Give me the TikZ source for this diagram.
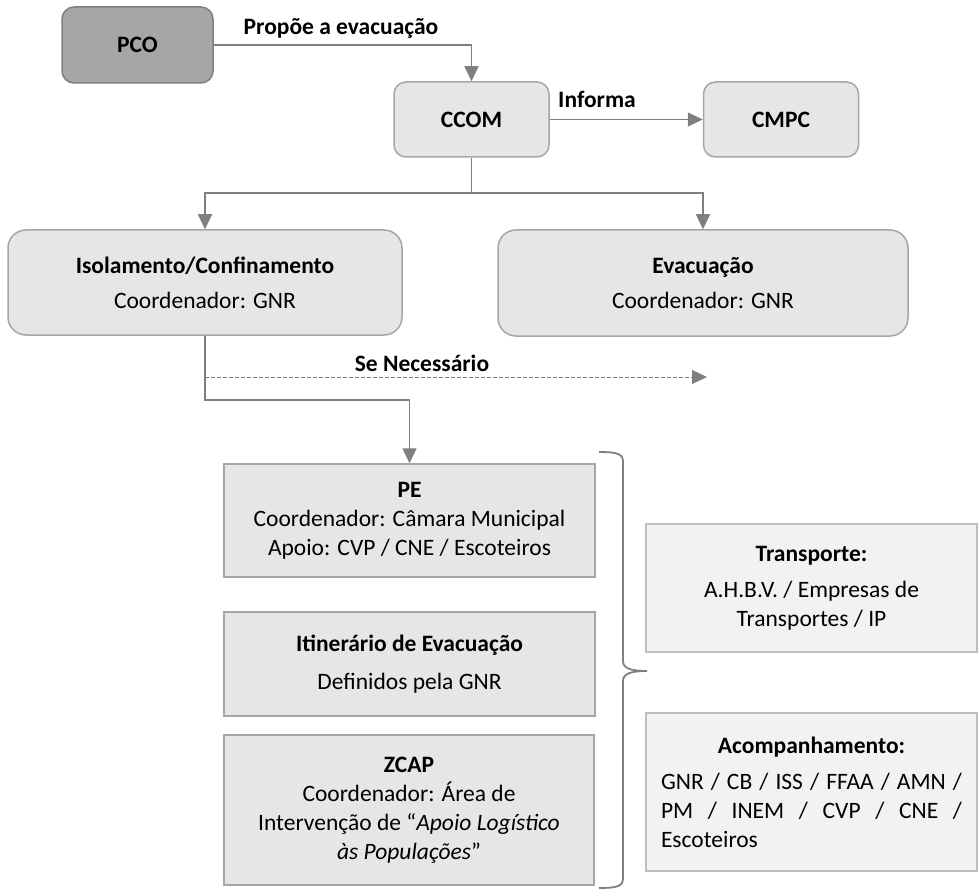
\documentclass[tikz,border=0pt]{standalone}
\usepackage{fontspec}
\setmainfont{Carlito}
\usepackage{tikz}
\usetikzlibrary{arrows.meta, positioning, calc}
\definecolor{boxfill}{HTML}{E6E6E6}
\definecolor{boxframe}{HTML}{A6A6A6}
\definecolor{topfill}{HTML}{A6A6A6}
\definecolor{topframe}{HTML}{808080}
\definecolor{sidefill}{HTML}{F2F2F2}
\definecolor{sideframe}{HTML}{BFBFBF}
\definecolor{linecolor}{HTML}{7F7F7F}

\begin{document}
\begin{tikzpicture}[
    x=0.5pt, y=-0.5pt,
    font=\fontsize{11.75}{14.5}\selectfont,
    cmdbox/.style={
        rectangle, rounded corners=6pt,
        fill=boxfill, draw=boxframe, line width=0.75pt,
        font=\fontsize{11.75}{14.5}\selectfont\bfseries,
        minimum width=77.5pt, minimum height=37.5pt,
    },
    opbox/.style={
        rectangle, rounded corners=9pt,
        fill=boxfill, draw=boxframe, line width=0.75pt,
        align=center, minimum width=197pt, minimum height=52.5pt,
    },
    taskbox/.style={
        rectangle, fill=boxfill, draw=boxframe, line width=0.75pt,
        align=center, minimum width=185.5pt, inner sep=2pt,
    },
    sidebox/.style={
        rectangle, fill=sidefill, draw=sideframe, line width=0.75pt,
        align=center, minimum width=165.5pt,
    },
    lbl/.style={font=\fontsize{11.75}{14.5}\selectfont\bfseries},
    conn/.style={draw=linecolor, line width=0.75pt,
        -{Triangle[length=7.5pt, width=7pt]}},
    maybe/.style={conn, line width=0.5pt, dash pattern=on 2pt off 1pt},
]
\useasboundingbox (0,0) rectangle (979,893);

% Command chain
\node[cmdbox, fill=topfill, draw=topframe, minimum width=75.5pt, minimum height=38pt]
    (pco) at (137.5,45) {PCO};
\node[cmdbox] (ccom) at (471.5,119.5) {CCOM};
\node[cmdbox] (cmpc) at (781,119.5) {CMPC};

% Protective actions
\node[opbox] (iso) at (205,282.5)
    {\textbf{Isolamento/Confinamento}\\[3pt] Coordenador: GNR};
\node[opbox, minimum width=205pt, minimum height=53pt] (evac) at (703,283)
    {\textbf{Evacuação}\\[3pt] Coordenador: GNR};

% Evacuation tasks
\node[taskbox, minimum height=56.5pt] (pe) at (409.5,520.5)
    {\textbf{PE}\\ Coordenador: Câmara Municipal\\ Apoio: CVP / CNE / Escoteiros};
\node[taskbox, minimum height=52pt] (itin) at (409.5,664)
    {\textbf{Itinerário de Evacuação}\\[4.5pt] Definidos pela GNR};
\node[taskbox, minimum height=75pt, minimum width=185pt] (zcap) at (409,810)
    {\textbf{ZCAP}\\ Coordenador: Área de\\
     Intervenção de “\textit{Apoio Logístico}\\ \textit{às Populações}”};

% Support entities
\node[sidebox, minimum height=64pt] (transp) at (811.5,588)
    {\textbf{Transporte:}\\[3.5pt] A.H.B.V. / Empresas de\\ Transportes / IP};
\node[sidebox, minimum height=79pt, text width=150.5pt, align=justify] (acomp) at (811.5,792)
    {{\centering\bfseries Acompanhamento:\par}\vspace{3.5pt}
     GNR / CB / ISS / FFAA / AMN /\linebreak
     PM / INEM / CVP / CNE /\linebreak
     Escoteiros};

% Connectors
\coordinate (fork) at (471.5,193);
\coordinate (bend) at (205,400);
\coordinate (sn0) at (205,377);
\coordinate (sn1) at (707,377);

\draw[conn] (pco.east) -| (ccom.north);
\node[lbl] (lpropoe) at (341,28) {Propõe a evacuação};
\draw[conn] (ccom.east) -- (cmpc.west);
\node[lbl] (linforma) at (597,99) {Informa};
\draw[draw=linecolor, line width=0.75pt] (ccom.south) -- (fork);
\draw[conn] (fork) -| (iso.north);
\draw[conn] (fork) -| (evac.north);
\draw[conn] (iso.south) -- (bend) -| (pe.north);
\draw[maybe] (sn0) -- (sn1);
\node[lbl] (lsenec) at (422,363) {Se Necessário};

% Brace grouping the tasks
\draw[draw=linecolor, line width=0.9pt]
    (599,452) .. controls (618,452) and (623,454) .. (623,462)
    -- (623,661) .. controls (623,668) and (630,671) .. (647,671)
    .. controls (630,671) and (623,674) .. (623,681)
    -- (623,878) .. controls (623,886) and (618,888) .. (599,888);

\end{tikzpicture}
\end{document}
